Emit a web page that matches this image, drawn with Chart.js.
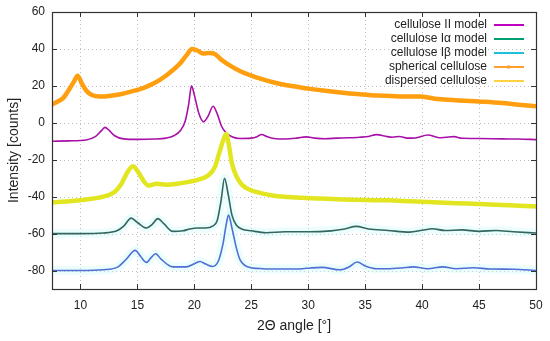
<!DOCTYPE html>
<html>
<head>
<meta charset="utf-8">
<script src="https://cdn.jsdelivr.net/npm/chart.js@4/dist/chart.umd.min.js"></script>
<style>
    html, body { margin: 0; padding: 0; background: #ffffff; }
    #wrap { width: 550px; height: 341px; }
</style>
</head>
<body>
<div id="wrap"><canvas id="xrdChart" width="550" height="341"></canvas></div>
<script>
// values (2Θ in degrees, intensity in counts, offset per curve)
const sphericalX = [7.5, 8.0, 8.5, 9.0, 9.4, 9.75, 10.1, 10.5, 11.0, 11.7, 12.5, 13.5, 14.5, 15.5, 16.5, 17.5, 18.2, 18.8, 19.3, 19.8, 20.3, 20.8, 21.3, 21.8, 22.4, 23.0, 24.0, 25.0, 26.0, 27.0, 28.0, 29.0, 30.0, 31.5, 33.0, 34.5, 36.0, 38.0, 39.8, 41.0, 43.0, 45.0, 47.0, 48.5, 50.0];
const sphericalY = [10, 11.5, 13.5, 18, 22, 25.5, 21.5, 17.5, 15, 14.2, 14.5, 15.5, 17, 18.8, 21.5, 25.5, 29, 32.5, 36.5, 40, 39, 37.5, 37.8, 37.2, 34, 31.5, 28, 25.5, 23.5, 21.8, 20.5, 19.5, 18.5, 17.3, 16.3, 15.5, 14.8, 14.3, 14.3, 13.2, 12.2, 11.5, 10.7, 9.8, 9];

const cellIIX = [7.5, 9, 10.5, 11.3, 11.8, 12.15, 12.5, 13.0, 13.8, 15, 16.5, 17.5, 18.2, 18.8, 19.2, 19.5, 19.75, 20.0, 20.4, 20.8, 21.2, 21.65, 22.0, 22.4, 22.8, 23.3, 24.0, 25.0, 25.5, 25.9, 26.4, 27.0, 28.0, 29.0, 29.8, 30.6, 31.5, 32.5, 33.5, 34.5, 35.3, 36.0, 36.8, 37.4, 38.0, 38.7, 39.4, 40.5, 41.5, 42.1, 42.8, 43.5, 45, 47, 48.5, 50];
const cellIIY = [-10, -9.8, -9.3, -7.5, -4.5, -2.5, -4, -7, -8.7, -9, -8.8, -8.3, -7, -4, 1, 10, 20, 15, 5, 0.5, 3.5, 9, 5, -2, -5.5, -7.5, -8.5, -8.3, -7.5, -6.3, -7.5, -8.5, -8.8, -8.3, -7.6, -8.3, -8.6, -8.3, -8.1, -7.8, -7.4, -6.4, -7.3, -7.8, -7.4, -8.3, -8.2, -6.6, -8.1, -7.8, -7.5, -8.4, -8.5, -8.7, -8.8, -9.1];

const dispersedX = [7.5, 9, 10.5, 12, 13.0, 13.6, 14.1, 14.6, 15.1, 15.6, 16.0, 16.7, 17.5, 18.5, 19.5, 20.5, 21.2, 21.8, 22.2, 22.5, 22.8, 23.0, 23.3, 23.7, 24.1, 24.6, 25.5, 27, 29, 31, 33, 35, 37, 39, 41, 43, 45, 47, 49, 50];
const dispersedY = [-43, -42.5, -41.5, -40, -37.5, -33, -27, -23.5, -27, -32, -34, -33, -33.5, -33, -32, -30.5, -28.5, -24, -16, -10, -6, -11, -22, -29, -33, -35.5, -37.5, -39.5, -40.5, -41, -41.5, -41.8, -42, -42.5, -43, -43.5, -44, -44.5, -45, -45.3];

const cellIaX = [7.5, 10, 12, 13.2, 13.8, 14.45, 15.0, 15.8, 16.3, 16.8, 17.3, 18.1, 19.0, 19.6, 20.3, 21.0, 21.6, 22.0, 22.35, 22.65, 22.95, 23.3, 23.7, 24.2, 25, 26.3, 28, 30, 32, 33.2, 34.2, 35.3, 37, 38.9, 40.0, 40.9, 42, 43.5, 45, 46.5, 48, 50];
const cellIaY = [-60, -60, -59.7, -58.5, -56, -51.6, -54, -57, -55, -51.9, -54.5, -58.8, -58.5, -57.5, -57, -57, -56, -53, -42, -30, -38, -50, -55.5, -57.6, -58.5, -59.5, -59, -59, -58.5, -57.5, -56.1, -57.5, -58.3, -59.2, -58.2, -57.4, -58.3, -58, -58.8, -58.3, -59, -59.7];

const cellIbX = [7.5, 10, 12, 13.3, 14.0, 14.8, 15.3, 15.8, 16.2, 16.6, 17.1, 18.1, 19.3, 20.0, 20.5, 21.0, 21.6, 22.1, 22.5, 22.8, 23.0, 23.3, 23.7, 24.0, 24.6, 26, 27.8, 29.5, 30.2, 31.2, 32.8, 33.6, 34.3, 35.0, 36.0, 36.9, 38.2, 39.2, 40.5, 41.8, 43, 44.5, 46, 48, 50];
const cellIbY = [-80, -80, -79.6, -78, -74, -69.1, -72.5, -75.6, -73, -70.9, -74, -78, -78, -76.3, -75.1, -76.5, -77.8, -75, -66, -55, -50, -57, -68, -74, -77.8, -79, -79.2, -79, -78.6, -78.3, -79.6, -78, -75.4, -77.5, -79, -79, -78.6, -78, -79, -78, -79, -78.5, -79.2, -79.3, -80];

const legendLabels = ['cellulose II model', 'cellulose I\u03b1 model', 'cellulose I\u03b2 model', 'spherical cellulose', 'dispersed cellulose'];
const legendColors = ['#c000c0', '#009e73', '#20c0d8', '#ff9f30', '#ffd040'];

const xMin = 7.5, xMax = 50, xStep = 5;
const yMin = -90, yMax = 60, yStep = 20;

function toPoints(xs, ys) {
    return xs.map((x, i) => ({ x: x, y: ys[i] }));
}

function line(data, color, width) {
    return {
        data: data,
        borderColor: color,
        borderWidth: width,
        pointRadius: 0,
        fill: false,
        cubicInterpolationMode: 'monotone'
    };
}

// no label overhang padding, the plot box is set by layout.padding only
function fixSize(scale, key, value) {
    scale[key] = value;
    scale.paddingTop = 0;
    scale.paddingBottom = 0;
    scale.paddingLeft = 0;
    scale.paddingRight = 0;
}

// dotted grid under the curves
const gridPlugin = {
    id: 'dottedGrid',
    beforeDatasetsDraw(chart) {
        const ctx = chart.ctx;
        const a = chart.chartArea;
        const xs = chart.scales.x, ys = chart.scales.y;
        ctx.save();
        ctx.strokeStyle = '#bdbdbd';
        ctx.lineWidth = 1;
        ctx.setLineDash([1, 3]);
        ctx.beginPath();
        xs.ticks.forEach(t => {
            const px = Math.round(xs.getPixelForValue(t.value)) + 0.5;
            ctx.moveTo(px, a.top); ctx.lineTo(px, a.bottom);
        });
        ys.ticks.forEach(t => {
            const py = Math.round(ys.getPixelForValue(t.value)) + 0.5;
            ctx.moveTo(a.left, py); ctx.lineTo(a.right, py);
        });
        ctx.stroke();
        ctx.restore();
    }
};

// frame + inward tick marks on all four sides, like gnuplot
const framePlugin = {
    id: 'frame',
    afterDraw(chart) {
        const ctx = chart.ctx;
        const a = chart.chartArea;
        const xs = chart.scales.x, ys = chart.scales.y;
        ctx.save();
        ctx.strokeStyle = '#333333';
        ctx.lineWidth = 1;
        ctx.beginPath();
        xs.ticks.forEach(t => {
            const px = Math.round(xs.getPixelForValue(t.value)) + 0.5;
            ctx.moveTo(px, a.bottom); ctx.lineTo(px, a.bottom - 5);
            ctx.moveTo(px, a.top); ctx.lineTo(px, a.top + 5);
        });
        ys.ticks.forEach(t => {
            const py = Math.round(ys.getPixelForValue(t.value)) + 0.5;
            ctx.moveTo(a.left, py); ctx.lineTo(a.left + 5, py);
            ctx.moveTo(a.right, py); ctx.lineTo(a.right - 5, py);
        });
        ctx.stroke();
        ctx.lineWidth = 1.2;
        ctx.strokeRect(Math.round(a.left) + 0.5, Math.round(a.top) + 0.5, Math.round(a.right - a.left), Math.round(a.bottom - a.top));

        // legend: right aligned text with line sample after it
        ctx.font = '12px "Liberation Sans", Arial, sans-serif';
        ctx.textAlign = 'right';
        ctx.textBaseline = 'middle';
        for (let i = 0; i < legendLabels.length; i++) {
            const y = 25 + i * 14;
            ctx.fillStyle = '#222222';
            ctx.fillText(legendLabels[i], 487, y);
            ctx.strokeStyle = legendColors[i];
            ctx.lineWidth = 2;
            ctx.beginPath();
            ctx.moveTo(494, y); ctx.lineTo(524, y);
            ctx.stroke();
            if (i === 3) {
                ctx.fillStyle = legendColors[i];
                ctx.fillRect(507, y - 1.5, 3, 3);
            }
        }
        ctx.restore();
    }
};

const ctx = document.getElementById('xrdChart').getContext('2d');

const datasets = [
    line(toPoints(cellIbX, cellIbY), '#4f6fd4', 1.6),
    line(toPoints(cellIaX, cellIaY), '#33665f', 1.6),
    line(toPoints(dispersedX, dispersedY), '#e2e620', 4.5),
    line(toPoints(cellIIX, cellIIY), '#a810a8', 1.6),
    line(toPoints(sphericalX, sphericalY), '#ff9f10', 4.5),
    // faint cyan halo under the model curves
    line(toPoints(cellIaX, cellIaY), 'rgba(205, 250, 250, 0.4)', 9),
    line(toPoints(cellIbX, cellIbY), 'rgba(205, 250, 250, 0.4)', 9)
];

new Chart(ctx, {
    type: 'line',
    data: { datasets: datasets },
    plugins: [gridPlugin, framePlugin],
    options: {
        responsive: false,
        animation: false,
        events: [],
        layout: { padding: { top: 12, right: 14, left: 0, bottom: 0 } },
        plugins: {
            legend: { display: false },
            tooltip: { enabled: false }
        },
        scales: {
            x: {
                type: 'linear',
                min: xMin,
                max: xMax,
                afterFit: function (scale) { fixSize(scale, 'height', 52); },
                ticks: {
                    stepSize: xStep,
                    includeBounds: false,
                    color: '#222222',
                    padding: 9,
                    maxRotation: 0,
                    font: { family: '"Liberation Sans", Arial, sans-serif', size: 12 }
                },
                grid: { display: false, drawTicks: false },
                border: { display: false },
                title: {
                    display: true,
                    text: '2\u0398 angle [\u00b0]',
                    color: '#222222',
                    padding: { top: 0, bottom: 6 },
                    font: { family: '"Liberation Sans", Arial, sans-serif', size: 14 }
                }
            },
            y: {
                min: yMin,
                max: yMax,
                afterFit: function (scale) { fixSize(scale, 'width', 52); },
                ticks: {
                    stepSize: yStep,
                    includeBounds: false,
                    color: '#222222',
                    padding: 7,
                    font: { family: '"Liberation Sans", Arial, sans-serif', size: 12 }
                },
                grid: { display: false, drawTicks: false },
                border: { display: false },
                title: {
                    display: true,
                    text: 'Intensity [counts]',
                    color: '#222222',
                    padding: { top: 6, bottom: 0 },
                    font: { family: '"Liberation Sans", Arial, sans-serif', size: 14 }
                }
            }
        }
    }
});
</script>
</body>
</html>
